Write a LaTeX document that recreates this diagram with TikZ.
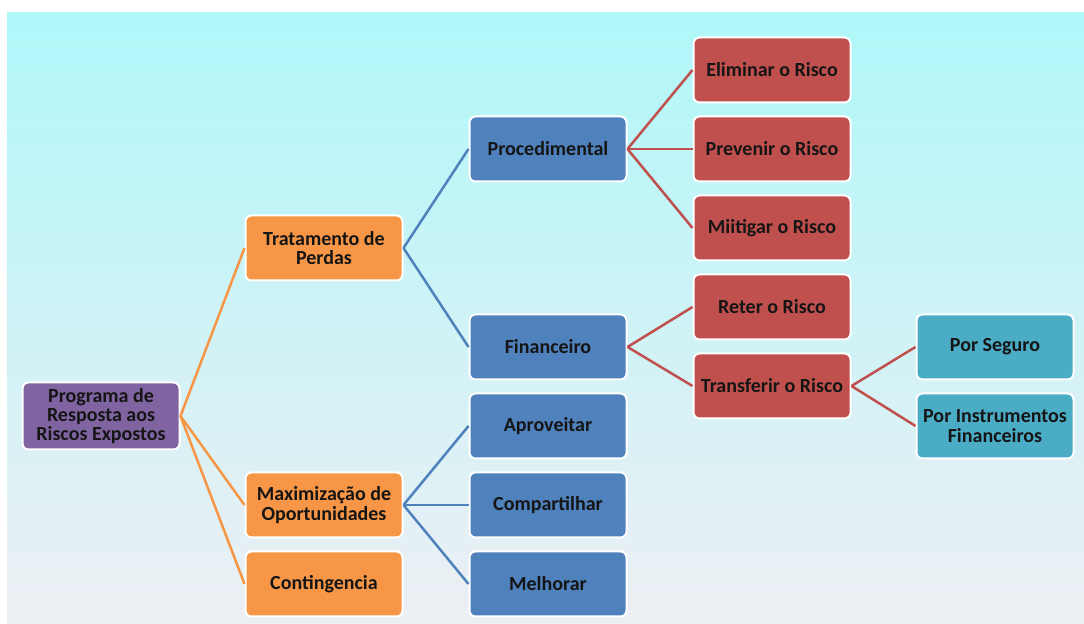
\documentclass[tikz,border=0pt]{standalone}
\usepackage{fontspec}
\setmainfont{Carlito}
\usepackage{xcolor}
\usetikzlibrary{positioning}

\definecolor{bgtop}{HTML}{B0F7F9}
\definecolor{bgmid}{HTML}{C4F4F8}
\definecolor{bgbot}{HTML}{EDEFF4}
\definecolor{rootfill}{HTML}{8064A2}
\definecolor{orgfill}{HTML}{F79646}
\definecolor{bluefill}{HTML}{4F81BD}
\definecolor{redfill}{HTML}{C0504D}
\definecolor{tealfill}{HTML}{4BACC6}
\definecolor{boxtext}{HTML}{151515}

\begin{document}
\begin{tikzpicture}[x=0.5pt, y=-0.5pt, node distance=6pt and 33.5pt,
    box/.style={rectangle, draw=white, line width=1pt, rounded corners=3pt,
      minimum width=78.5pt, minimum height=32.5pt, inner sep=1.5pt, align=center,
      text=boxtext, font=\bfseries\fontsize{10}{9.6}\selectfont},
    rootbox/.style={box, fill=rootfill, minimum height=33.5pt},
    orgbox/.style={box, fill=orgfill},
    bluebox/.style={box, fill=bluefill},
    redbox/.style={box, fill=redfill},
    tealbox/.style={box, fill=tealfill},
    link/.style={line width=1.25pt}]
    % background
    \useasboundingbox (0,0) rectangle (1084,624);
    \fill[white] (0,0) rectangle (1084,624);
    \shade[top color=bgtop, middle color=bgmid, bottom color=bgbot] (7,13) rectangle (1084,624);

    % level 0 and 1
    \node[rootbox] (prog) at (101,416) {Programa de\\Resposta aos\\Riscos Expostos};
    \node[orgbox] (trat) at (324,248) {Tratamento de\\Perdas};
    \node[orgbox] (maxi) at (324,505) {Maximização de\\Oportunidades};
    \node[orgbox, below=of maxi] (cont) {Contingencia};

    % level 2
    \node[bluebox] (proc) at (548,149) {Procedimental};
    \node[bluebox] (fin) at (548,347) {Financeiro};
    \node[bluebox, below=of fin] (aprov) {Aproveitar};
    \node[bluebox, below=of aprov] (comp) {Compartilhar};
    \node[bluebox, below=of comp] (melh) {Melhorar};

    % level 3
    \node[redbox] (elim) at (772,70) {Eliminar o Risco};
    \node[redbox, below=of elim] (prev) {Prevenir o Risco};
    \node[redbox, below=of prev] (miti) {Miitigar o Risco};
    \node[redbox, below=of miti] (reter) {Reter o Risco};
    \node[redbox, below=of reter] (transf) {Transferir o Risco};

    % level 4
    \node[tealbox] (seguro) at (995,347) {Por Seguro};
    \node[tealbox, below=of seguro] (instr) {Por Instrumentos\\Financeiros};

    \draw[link, orgfill] (prog.east) -- (trat.west);
    \draw[link, orgfill] (prog.east) -- (maxi.west);
    \draw[link, orgfill] (prog.east) -- (cont.west);

    \draw[link, bluefill] (trat.east) -- (proc.west);
    \draw[link, bluefill] (trat.east) -- (fin.west);
    \draw[link, bluefill] (maxi.east) -- (aprov.west);
    \draw[link, bluefill] (maxi.east) -- (comp.west);
    \draw[link, bluefill] (maxi.east) -- (melh.west);

    \draw[link, redfill] (proc.east) -- (elim.west);
    \draw[link, redfill] (proc.east) -- (prev.west);
    \draw[link, redfill] (proc.east) -- (miti.west);
    \draw[link, redfill] (fin.east) -- (reter.west);
    \draw[link, redfill] (fin.east) -- (transf.west);
    \draw[link, redfill] (transf.east) -- (seguro.west);
    \draw[link, redfill] (transf.east) -- (instr.west);
\end{tikzpicture}
\end{document}
